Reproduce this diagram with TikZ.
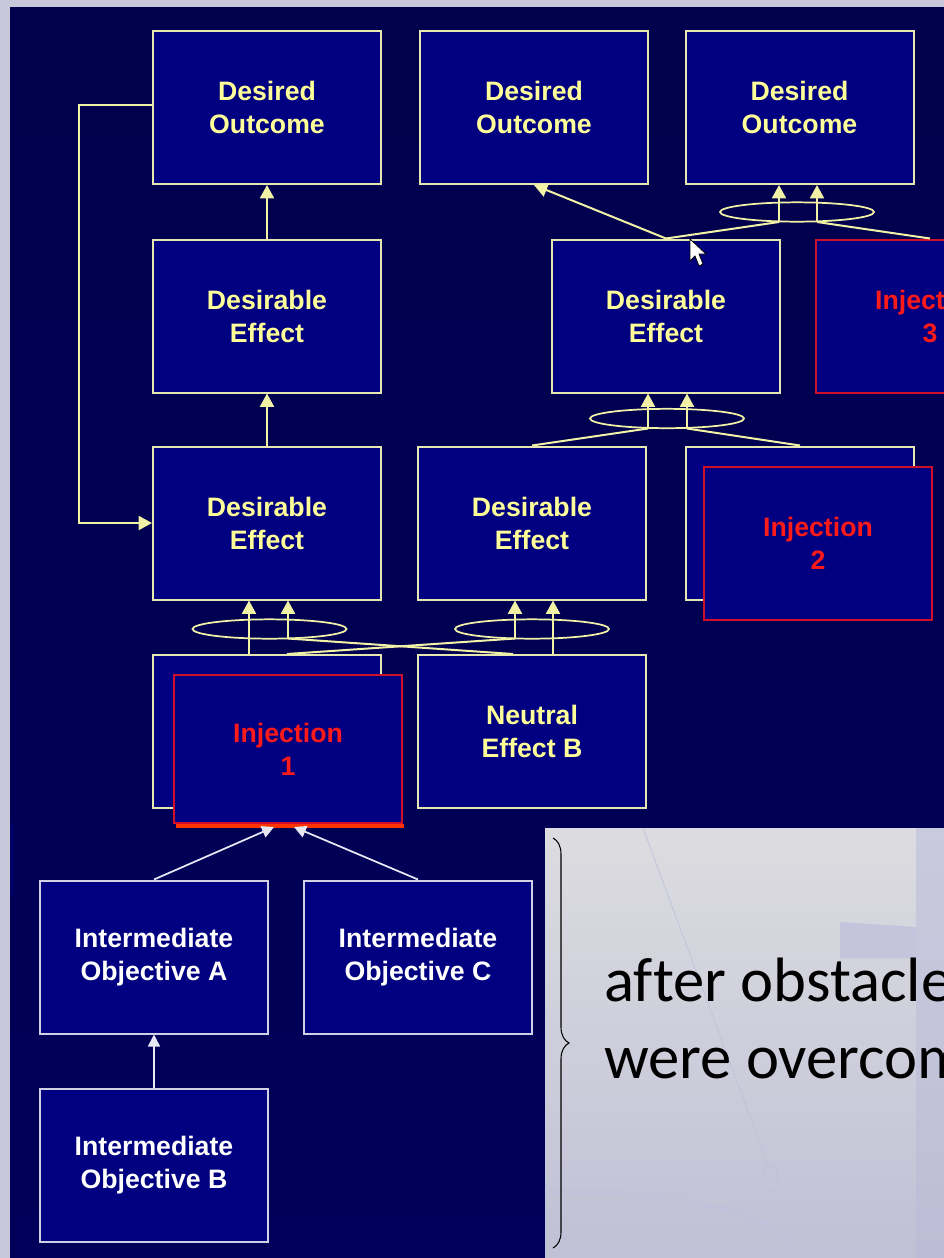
\documentclass[tikz,border=0pt]{standalone}
\usepackage{fontspec}
\setmainfont{Liberation Sans}
\newfontfamily\calibrifont[Ligatures=NoCommon]{Carlito}
\usetikzlibrary{arrows.meta,shapes.geometric,calc,decorations.pathreplacing}
\definecolor{outerbg}{HTML}{C8C8DA}
\definecolor{navytop}{HTML}{00004C}
\definecolor{navymid}{HTML}{000030}
\definecolor{navybot}{HTML}{00005A}
\definecolor{navybox}{HTML}{000080}
\definecolor{ybord}{HTML}{E6E6B0}
\definecolor{ytext}{HTML}{FFFF99}
\definecolor{ylinec}{HTML}{F2F2A6}
\definecolor{injred}{HTML}{D0102A}
\definecolor{injtext}{HTML}{FF1A1A}
\definecolor{injbot}{HTML}{FF3300}
\definecolor{ioborder}{HTML}{D0D0E4}
\definecolor{wlinec}{HTML}{E8E8F4}
\definecolor{lpanelA}{HTML}{DCDCE0}
\definecolor{lpanelB}{HTML}{C0C0D6}
\definecolor{lstripA}{HTML}{CACADE}
\definecolor{lstripB}{HTML}{BCBCD6}
\definecolor{decoc}{HTML}{C0C0DC}
\begin{document}
\begin{tikzpicture}[x=0.75pt,y=-0.75pt,
  box/.style={draw=ybord, fill=navybox, line width=1.5pt, minimum width=171pt,
    minimum height=114.75pt, inner sep=0pt, align=center, text=ytext,
    font=\bfseries\fontsize{20}{24.75}\selectfont},
  injbox/.style={box, draw=injred, text=injtext},
  iobox/.style={box, draw=ioborder, text=white},
  andell/.style={draw=ylinec, ellipse, line width=1.3pt, minimum width=115.5pt,
    minimum height=14.5pt, inner sep=0pt},
  yln/.style={draw=ylinec, line width=1.5pt},
  yarr/.style={yln, -{Triangle[length=10pt,width=10.5pt]}},
  warr/.style={draw=wlinec, line width=1.3pt, -{Triangle[length=9pt,width=9pt]}},
  bigtext/.style={anchor=base west, inner sep=0pt, text=black,
    font=\calibrifont\fontsize{47}{57}\selectfont}
]
\useasboundingbox (0,0) rectangle (944,1258);
\clip (0,0) rectangle (944,1258);
% backgrounds
\fill[outerbg] (0,0) rectangle (944,1258);
\shade[top color=navytop, middle color=navymid, bottom color=navybot] (10,7) rectangle (944,1258);
\draw[color=blue!45!black, line width=1pt] (12,823) -- (12,895);
% light panel
\shade[top color=lpanelA, bottom color=lpanelB] (545,828) rectangle (944,1258);
\shade[top color=lstripA, bottom color=lstripB] (916,828) rectangle (944,1258);
\fill[color=decoc!85!lpanelA] (840,922) -- (916,927) -- (916,958) -- (840,958) -- cycle;
\draw[color=decoc, line width=0.5pt] (643,828) -- (768,1165);
\draw[color=decoc, line width=0.7pt] (770,1178) ellipse [x radius=8, y radius=13];
\draw[color=decoc, line width=4pt, opacity=0.4] (545,1193) .. controls (690,1190) and (790,1215) .. (795,1258);
\coordinate (bt) at (553,838);
\coordinate (bb) at (553,1248);
\draw[black, line width=0.8pt, decorate, decoration={brace, amplitude=12pt}] (bt) -- (bb);
\node[bigtext] (txt1) at (604,1001) {after obstacles};
\node[bigtext] (txt2) at (604,1078) {were overcome};
% boxes
\node[box] (DO1) at (267,107.5) {Desired\\Outcome};
\node[box] (DO2) at (534,107.5) {Desired\\Outcome};
\node[box] (DO3) at (799.5,107.5) {Desired\\Outcome};
\node[box] (DE1) at (267,316) {Desirable\\Effect};
\node[box] (DE2) at (666,316) {Desirable\\Effect};
\node[injbox] (Inj3) at (930,316) {Injection\\3};
\node[box] (DE3) at (267,523) {Desirable\\Effect};
\node[box] (DE4) at (532,523) {Desirable\\Effect};
\node[box] (DE5) at (800,523) {};
\node[injbox] (Inj2) at (818,543) {Injection\\2};
\node[box] (X1) at (267,731.5) {};
\node[box] (NB) at (532,731.5) {Neutral\\Effect B};
\node[injbox, minimum height=111pt] (Inj1) at (288,749) {Injection\\1};
\draw[draw=injbot, line width=3pt] ($(Inj1.south west)+(3,2)$) -- ($(Inj1.south east)+(1,2)$);
\node[iobox] (IOA) at (154,957) {Intermediate\\Objective A};
\node[iobox] (IOC) at (418,957) {Intermediate\\Objective C};
\node[iobox] (IOB) at (154,1165.5) {Intermediate\\Objective B};
% AND ellipses
\node[andell] (and3) at (797,212) {};
\node[andell] (and2) at (667,418.5) {};
\node[andell] (andL) at (269.5,629) {};
\node[andell] (andR) at (532,629) {};
% connectors, top
\draw[yarr] (DE1.north) -- (DO1.south);
\draw[yarr] (DE3.north) -- (DE1.south);
\coordinate (fb) at (79,523);
\draw[yarr] ($(DO1.west)+(0,-2.5)$) -| (fb) -- (DE3.west);
\draw[yarr] (DE2.north) -- (DO2.south);
\coordinate (a3l) at (779,222);
\coordinate (a3r) at (817,222);
\draw[yarr] (a3l) -- (a3l |- DO3.south);
\draw[yarr] (a3r) -- (a3r |- DO3.south);
\draw[yln] (DE2.north) -- (a3l);
\draw[yln] (a3r) -- (Inj3.north);
% into DE2
\coordinate (a2l) at (648,428.5);
\coordinate (a2r) at (687,428.5);
\draw[yarr] (a2l) -- (a2l |- DE2.south);
\draw[yarr] (a2r) -- (a2r |- DE2.south);
\draw[yln] (a2l) -- (DE4.north);
\draw[yln] (a2r) -- (DE5.north);
% into DE3 and DE4
\coordinate (aLl) at (249,638.5);
\coordinate (aLr) at (288,638.5);
\coordinate (aRl) at (515,638.5);
\coordinate (aRr) at (553,638.5);
\draw[yarr] (aLl) -- (aLl |- DE3.south);
\draw[yarr] (aLr) -- (aLr |- DE3.south);
\draw[yarr] (aRl) -- (aRl |- DE4.south);
\draw[yarr] (aRr) -- (aRr |- DE4.south);
\draw[yln] (aLl) -- (aLl |- X1.north);
\draw[yln] (aLr) -- ($(NB.north)+(-19,0)$);
\draw[yln] (aRl) -- ($(X1.north)+(20,0)$);
\draw[yln] (aRr) -- (aRr |- NB.north);
% white arrows
\coordinate (i1l) at (274,827);
\coordinate (i1r) at (294,827);
\draw[warr] (IOA.north) -- (i1l);
\draw[warr] (IOC.north) -- (i1r);
\draw[warr] (IOB.north) -- (IOA.south);
% mouse cursor
\filldraw[fill=white, draw=black, line width=0.6pt] (690,239) -- ++(0,22) -- ++(5,-5) -- ++(4,10) -- ++(4,-2) -- ++(-4,-10) -- ++(7,0) -- cycle;
\end{tikzpicture}
\end{document}
